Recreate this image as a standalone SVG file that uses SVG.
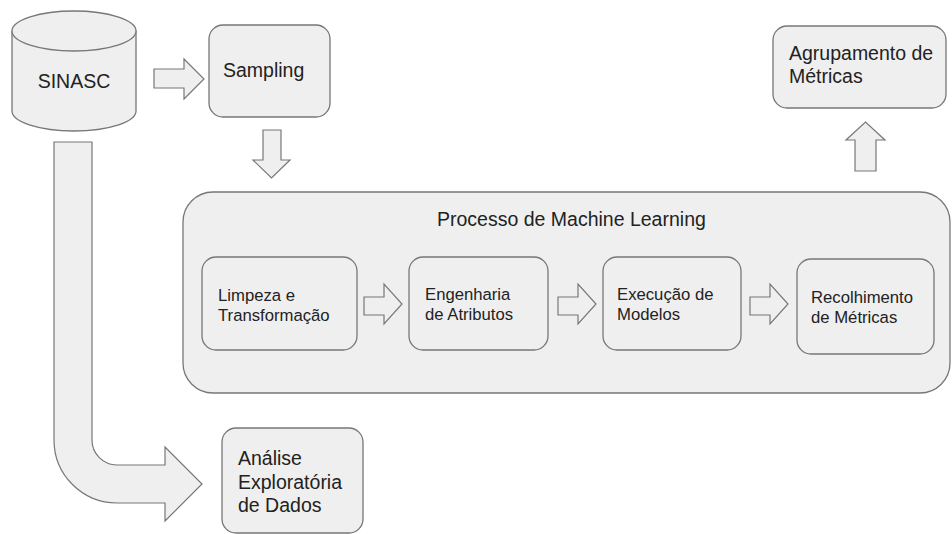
<svg xmlns="http://www.w3.org/2000/svg" width="952" height="534" viewBox="0 0 952 534">
<style>
.shape{fill:#efefef;stroke:#777777;stroke-width:1.3}
.arrow{fill:#efefef;stroke:#777777;stroke-width:1.2;stroke-linejoin:miter}
.t{font-family:"Liberation Sans",Arial,sans-serif;fill:#222222}
.big{font-size:19.5px}
.small{font-size:16.7px}
</style>
<rect width="952" height="534" fill="#ffffff"/>
<g id="connectors">
<path class="arrow" d="M154,69 L184,69 L184,59 L204,79 L184,99 L184,88 L154,88 Z"/>
<path class="arrow" d="M263,130 L281,130 L281,160 L290,160 L271.5,178 L253,160 L263,160 Z"/>
<path class="arrow" d="M855,171 L876,171 L876,140 L885,140 L865.5,122 L846,140 L855,140 Z"/>
<path class="arrow" d="M54,142 L92,142 L92,440 A25,25 0 0 0 117,465 L165,465 L165,447 L202,484 L165,521 L165,503 L117,503 A63,63 0 0 1 54,440 Z"/>
</g>
<g id="sinasc">
<path class="shape" d="M12,31 L12,111 A62,20 0 0 0 136,111 L136,31"/>
<ellipse class="shape" cx="74" cy="31" rx="62" ry="20"/>
<text class="t big" x="74" y="88" text-anchor="middle">SINASC</text>
</g>
<g id="sampling">
<rect class="shape" x="209" y="25" width="121" height="92" rx="14"/>
<text class="t big" x="223" y="77">Sampling</text>
</g>
<g id="agrupamento">
<rect class="shape" x="773" y="26" width="173" height="82" rx="14"/>
<text class="t big" x="789" y="60">Agrupamento de</text>
<text class="t big" x="789" y="83">Métricas</text>
</g>
<g id="ml-process">
<rect class="shape" x="183" y="192" width="767" height="201" rx="30"/>
<text class="t big" x="437" y="226">Processo de Machine Learning</text>
</g>
<g id="ml-arrows">
<path class="arrow" d="M364,297 L384,297 L384,284 L402,304 L384,324 L384,315 L364,315 Z"/>
<path class="arrow" d="M558,297 L578,297 L578,284 L596,304 L578,324 L578,315 L558,315 Z"/>
<path class="arrow" d="M750,297 L770,297 L770,284 L788,304 L770,324 L770,315 L750,315 Z"/>
</g>
<g id="limpeza">
<rect class="shape" x="202" y="257" width="155" height="93" rx="14"/>
<text class="t small" x="218" y="301">Limpeza e</text>
<text class="t small" x="218" y="321">Transformação</text>
</g>
<g id="engenharia">
<rect class="shape" x="409" y="257" width="139" height="93" rx="14"/>
<text class="t small" x="425" y="300">Engenharia</text>
<text class="t small" x="425" y="320">de Atributos</text>
</g>
<g id="execucao">
<rect class="shape" x="603" y="257" width="138" height="93" rx="14"/>
<text class="t small" x="617" y="300">Execução de</text>
<text class="t small" x="617" y="320">Modelos</text>
</g>
<g id="recolhimento">
<rect class="shape" x="797" y="259" width="137" height="95" rx="14"/>
<text class="t small" x="811" y="303">Recolhimento</text>
<text class="t small" x="811" y="323">de Métricas</text>
</g>
<g id="analise">
<rect class="shape" x="222" y="428" width="141" height="105" rx="14"/>
<text class="t big" x="238" y="465">Análise</text>
<text class="t big" x="238" y="488.5">Exploratória</text>
<text class="t big" x="238" y="512">de Dados</text>
</g>
</svg>
